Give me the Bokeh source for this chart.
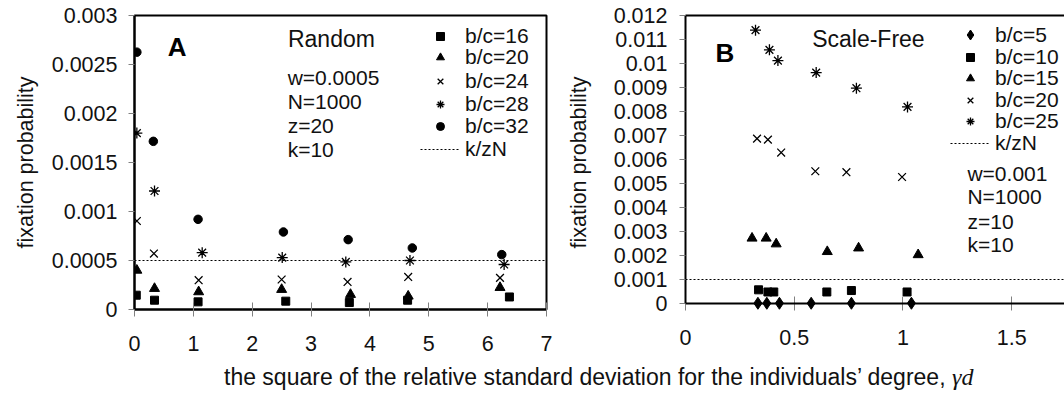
from bokeh.plotting import figure
from bokeh.models import (Range1d, FixedTicker, CustomJSTickFormatter, Label, Span,
                          Legend, LegendItem, LinearAxis, Div)
from bokeh.layouts import row, column
from bokeh.embed import file_html
from bokeh.resources import INLINE

FONT = "Liberation Sans"

# ---------------- Panel A : Random ----------------
a_xticks = [0, 1, 2, 3, 4, 5, 6, 7]
a_yticks = [0, 0.0005, 0.001, 0.0015, 0.002, 0.0025, 0.003]
a_params = {"w": 0.0005, "N": 1000, "z": 20, "k": 10}
a_labels = ["b/c=16", "b/c=20", "b/c=24", "b/c=28", "b/c=32", "k/zN"]

a_bc16_x = [0.03, 0.34, 1.08, 2.57, 3.65, 4.64, 6.37]
a_bc16_y = [0.000146, 0.000095, 0.000078, 0.000085, 0.000071, 0.000095, 0.000128]
a_bc20_x = [0.04, 0.34, 1.09, 2.50, 3.67, 4.65, 6.21]
a_bc20_y = [0.000400, 0.000214, 0.000180, 0.000204, 0.000153, 0.000136, 0.000224]
a_bc24_x = [0.04, 0.33, 1.09, 2.50, 3.62, 4.65, 6.21]
a_bc24_y = [0.000903, 0.000571, 0.000299, 0.000306, 0.000281, 0.000332, 0.000322]
a_bc28_x = [0.04, 0.34, 1.15, 2.51, 3.59, 4.68, 6.28]
a_bc28_y = [0.001800, 0.001209, 0.000580, 0.000530, 0.000485, 0.000500, 0.000459]
a_bc32_x = [0.04, 0.32, 1.08, 2.53, 3.63, 4.72, 6.24]
a_bc32_y = [0.002626, 0.001716, 0.000920, 0.000791, 0.000713, 0.000628, 0.000560]

# ---------------- Panel B : Scale-Free ----------------
b_xticks = [0, 0.5, 1, 1.5, 2]
b_yticks = [0, 0.001, 0.002, 0.003, 0.004, 0.005, 0.006, 0.007, 0.008, 0.009, 0.01, 0.011, 0.012]
b_params = {"w": 0.001, "N": 1000, "z": 10, "k": 10}
b_labels = ["b/c=5", "b/c=10", "b/c=15", "b/c=20", "b/c=25", "k/zN"]

b_bc5_x = [0.333, 0.374, 0.432, 0.578, 0.763, 1.039]
b_bc5_y = [0.00001, 0.00001, 0.00001, 0.00001, 0.00001, 0.00001]
b_bc10_x = [0.336, 0.379, 0.406, 0.650, 0.763, 1.019]
b_bc10_y = [0.00057, 0.00048, 0.00048, 0.00048, 0.00054, 0.00048]
b_bc15_x = [0.306, 0.371, 0.417, 0.652, 0.796, 1.070]
b_bc15_y = [0.00272, 0.00272, 0.00248, 0.00216, 0.00231, 0.00203]
b_bc20_x = [0.329, 0.379, 0.440, 0.597, 0.740, 0.996]
b_bc20_y = [0.00687, 0.00683, 0.00629, 0.00551, 0.00547, 0.00527]
b_bc25_x = [0.322, 0.386, 0.425, 0.601, 0.786, 1.021]
b_bc25_y = [0.01139, 0.01057, 0.01012, 0.00962, 0.00897, 0.00819]

X_TITLE = "the square of the relative standard deviation for the individuals’ degree, "
Y_TITLE = "fixation probability"

fmt_code = "return String(Number(tick.toPrecision(6)));"


def style_axes(p, ylab_standoff, ylbl_standoff):
    for ax in (p.xaxis[0], p.yaxis[0]):
        ax.axis_line_width = 2
        ax.axis_line_color = "black"
        ax.major_tick_line_color = "#808080"
        ax.major_tick_line_width = 1
        ax.minor_tick_line_color = None
        ax.major_label_text_font = FONT
        ax.major_label_text_font_size = "21.5px"
        ax.major_label_text_color = "#111111"
        ax.formatter = CustomJSTickFormatter(code=fmt_code)
    p.xaxis.major_tick_in = 7
    p.xaxis.major_tick_out = 7
    p.xaxis.major_label_standoff = 19
    p.yaxis.major_tick_in = 0
    p.yaxis.major_tick_out = 6
    p.yaxis.major_label_standoff = ylab_standoff
    p.yaxis.axis_label = Y_TITLE
    p.yaxis.axis_label_text_font = FONT
    p.yaxis.axis_label_text_font_size = "21.5px"
    p.yaxis.axis_label_text_font_style = "normal"
    p.yaxis.axis_label_text_color = "#111111"
    p.yaxis.axis_label_standoff = ylbl_standoff
    p.xgrid.grid_line_color = None
    p.ygrid.grid_line_color = None
    p.background_fill_color = "white"
    p.border_fill_color = "white"


def make_legends(p, renderers, labels, x, ys, glyph_heights=None):
    # one single-row legend per entry, stacked at the reference's row pitch
    if glyph_heights is None:
        glyph_heights = [20] * len(labels)
    for r, lab, y, gh in zip(renderers, labels, ys, glyph_heights):
        leg = Legend(items=[LegendItem(label=lab, renderers=[r])], location=(x, y),
                     glyph_width=40, glyph_height=gh, label_standoff=5, padding=0,
                     margin=0, spacing=0, background_fill_alpha=0, border_line_color=None,
                     label_text_font=FONT, label_text_font_size="21px",
                     label_text_color="#111111", label_height=20)
        p.add_layout(leg)


def params_labels(p, params, x, ys):
    for (key, val), y in zip(params.items(), ys):
        txt = f"{key}={val:g}" if key == "w" else f"{key}={val}"
        p.add_layout(Label(x=x, y=y, text=txt, text_font=FONT, text_font_size="21px",
                           text_color="#111111", text_baseline="alphabetic"))


# ---------- figure A ----------
pA = figure(width=563, height=364, x_range=Range1d(0, 7), y_range=Range1d(0, 0.003),
            output_backend="svg", toolbar_location=None,
            min_border_left=134, min_border_right=17, min_border_top=15, min_border_bottom=55)
pA.outline_line_color = "black"
pA.outline_line_width = 2
style_axes(pA, 11, 11)
pA.xaxis.ticker = FixedTicker(ticks=a_xticks)
pA.yaxis.ticker = FixedTicker(ticks=a_yticks)

a_kzn = a_params["k"] / (a_params["z"] * a_params["N"])
rAline = pA.line(x=[a_xticks[0], a_xticks[-1]], y=[a_kzn, a_kzn], line_color="black",
                 line_width=1, line_dash="2 2")

rA16 = pA.scatter(a_bc16_x, a_bc16_y, marker="square", size=8, color="black")
rA20 = pA.scatter(a_bc20_x, a_bc20_y, marker="triangle", size=10, color="black")
rA24 = pA.scatter(a_bc24_x, a_bc24_y, marker="x", size=11, line_color="black", line_width=1.3)
rA28 = pA.scatter(a_bc28_x, a_bc28_y, marker="asterisk", size=11, line_color="black", line_width=1.3)
rA32 = pA.scatter(a_bc32_x, a_bc32_y, marker="circle", size=8.5, color="black")

make_legends(pA, [rA16, rA20, rA24, rA28, rA32, rAline], a_labels, 286,
             [261, 240, 216, 193, 171, 148])

pA.add_layout(Label(x=0.566, y=0.002677, text="A", text_font=FONT, text_font_style="bold",
                    text_font_size="26px", text_color="black", text_baseline="alphabetic"))
pA.add_layout(Label(x=2.607, y=0.002759, text="Random", text_font=FONT,
                    text_font_size="23px", text_color="#111111", text_baseline="alphabetic"))
params_labels(pA, a_params, 2.602, [0.0023625, 0.0021235, 0.0018735, 0.0016295])

# ---------- figure B ----------
pB = figure(width=501, height=364, x_range=Range1d(0, 1.743), y_range=Range1d(-0.00025, 0.012),
            output_backend="svg", toolbar_location=None,
            min_border_left=122, min_border_right=0, min_border_top=15, min_border_bottom=49)
pB.outline_line_color = None
style_axes(pB, 12, 20)
pB.xaxis.ticker = FixedTicker(ticks=b_xticks)
pB.yaxis.ticker = FixedTicker(ticks=b_yticks)
pB.yaxis.bounds = (b_yticks[0], b_yticks[-1])
pB.xaxis.axis_line_color = None
pB.xaxis.major_tick_in = 13
pB.xaxis.major_tick_out = 1
pB.xaxis.major_label_standoff = 19
pB.add_layout(Span(location=b_yticks[0], dimension="width", line_color="black", line_width=2))
top_axis = LinearAxis(ticker=FixedTicker(ticks=[]), major_label_text_font_size="0px",
                      axis_line_width=2, axis_line_color="black",
                      major_tick_line_color=None, minor_tick_line_color=None)
pB.add_layout(top_axis, "above")

b_kzn = b_params["k"] / (b_params["z"] * b_params["N"])
rBline = pB.line(x=[b_xticks[0], b_xticks[-1]], y=[b_kzn, b_kzn], line_color="black",
                 line_width=1, line_dash="2 2")

rB10 = pB.scatter(b_bc10_x, b_bc10_y, marker="square", size=8, color="black")
rB15 = pB.scatter(b_bc15_x, b_bc15_y, marker="triangle", size=10, color="black")
rB20 = pB.scatter(b_bc20_x, b_bc20_y, marker="x", size=11, line_color="black", line_width=1.3)
rB25 = pB.scatter(b_bc25_x, b_bc25_y, marker="asterisk", size=11, line_color="black", line_width=1.3)
rB5 = pB.scatter(b_bc5_x, b_bc5_y, marker="diamond", size=12, color="black", level="overlay")

make_legends(pB, [rB5, rB10, rB15, rB20, rB25, rBline], b_labels, 265,
             [262, 240.4, 218.8, 197.2, 175.6, 154], [25, 20, 20, 20, 20, 20])

pB.add_layout(Label(x=0.138, y=0.010437, text="B", text_font=FONT, text_font_style="bold",
                    text_font_size="26px", text_color="black", text_baseline="alphabetic"))
pB.add_layout(Label(x=0.5825, y=0.011033, text="Scale-Free", text_font=FONT,
                    text_font_size="23px", text_color="#111111", text_baseline="alphabetic"))
params_labels(pB, b_params, 1.2966, [0.005396, 0.004441, 0.003436, 0.002441])

title_html = (
    '<div style="position:relative; top:-5px; margin-left:219px; font-family:\'Liberation Sans\'; '
    'font-size:23px; line-height:26px; white-space:nowrap; color:#111111;">'
    + X_TITLE +
    '<span style="font-family:\'Liberation Serif\'; font-style:italic; font-size:24px;">γd</span></div>'
)
title = Div(text=title_html, width=1064, height=30)

layout = column(row(pA, pB), title)
open("out.html", "w").write(file_html(layout, INLINE))
